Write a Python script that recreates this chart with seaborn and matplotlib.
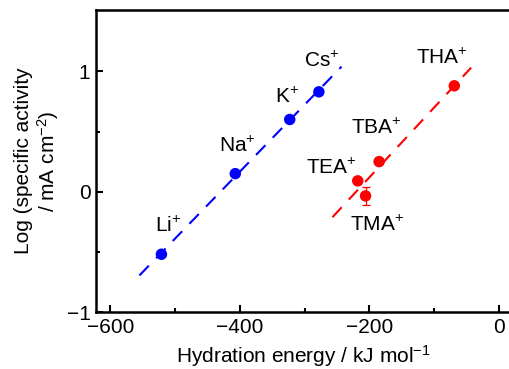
import matplotlib
matplotlib.use("Agg")
import matplotlib.pyplot as plt
import numpy as np
import pandas as pd
import seaborn as sns

# alkali cations
alkali_names = ["Li", "Na", "K", "Cs"]
alkali_energy = [-521, -407, -323, -278]
alkali_log = [-0.52, 0.15, 0.60, 0.83]
alkali_fit_range = [-555, -243]

# tetraalkylammonium cations
taa_names = ["TEA", "TMA", "TBA", "THA"]
taa_energy = [-218, -206, -185, -69]
taa_log = [0.09, -0.035, 0.25, 0.88]
taa_err = [0.0, 0.075, 0.0, 0.0]
taa_fit_range = [-257, -43]

sns.set_theme(style="ticks")
plt.rcParams["font.family"] = ["Liberation Sans", "DejaVu Sans"]
plt.rcParams["mathtext.fontset"] = "custom"
plt.rcParams["mathtext.rm"] = "Liberation Sans"
plt.rcParams["mathtext.it"] = "Liberation Sans"
plt.rcParams["text.color"] = "black"
plt.rcParams["axes.labelcolor"] = "black"

BLUE = "#0000ff"
RED = "#ff0000"
FS = 15

df_alk = pd.DataFrame({"energy": alkali_energy, "log": alkali_log, "ion": alkali_names})
df_taa = pd.DataFrame({"energy": taa_energy, "log": taa_log, "ion": taa_names, "err": taa_err})

fig = plt.figure(figsize=(5.1, 3.69), dpi=100)
ax = fig.add_axes([96 / 510, 57 / 369, 1 - 96 / 510, 302 / 369])

# linear fits
for df, rng, c in [(df_alk, alkali_fit_range, BLUE), (df_taa, taa_fit_range, RED)]:
    k, b = np.polyfit(df["energy"], df["log"], 1)
    xs = np.array(rng, dtype=float)
    ax.plot(xs, k * xs + b, color=c, lw=1.5, dashes=(6.5, 5))

ax.errorbar(df_taa["energy"], df_taa["log"], yerr=df_taa["err"], fmt="none",
            ecolor=RED, elinewidth=0.9, capsize=3, capthick=0.9)
sns.scatterplot(data=df_alk, x="energy", y="log", color=BLUE, s=68,
                edgecolor="none", ax=ax, zorder=3)
sns.scatterplot(data=df_taa, x="energy", y="log", color=RED, s=68,
                edgecolor="none", ax=ax, zorder=3)

# labels (offsets in pixels)
alk_off = [(7, 28), (2, 28), (-3, 23), (3, 31)]
taa_off = [(-26, 13), (12, -29), (-3, 34), (-12, 28)]
for names, xs, ys, offs in [(alkali_names, alkali_energy, alkali_log, alk_off),
                            (taa_names, taa_energy, taa_log, taa_off)]:
    for n, x, y, o in zip(names, xs, ys, offs):
        ax.annotate(n + "$^{+}$", (x, y), xytext=o, textcoords="offset pixels",
                    ha="center", va="center", fontsize=FS, color="black")

ax.set_xlim(-622, 17)
ax.set_ylim(-1, 1.51)
ax.set_xticks([-600, -400, -200, 0])
ax.set_xticklabels(["\u2212600", "\u2212400", "\u2212200", "0"])
ax.set_xticks([-500, -300, -100], minor=True)
ax.set_yticks([-1, 0, 1])
ax.set_yticklabels(["\u22121", "0", "1"])
ax.set_yticks([-0.5, 0.5], minor=True)

ax.tick_params(axis="both", which="major", direction="in", length=5, width=1.5,
               labelsize=FS, colors="black", labelcolor="black", pad=4)
ax.tick_params(axis="both", which="minor", direction="in", length=3, width=1.5,
               colors="black")
ax.tick_params(axis="y", which="both", right=False)
ax.tick_params(axis="x", which="both", top=False)
for side in ["left", "bottom", "top"]:
    ax.spines[side].set_linewidth(1.8)
    ax.spines[side].set_color("black")
ax.spines["right"].set_visible(False)

ax.set_xlabel("Hydration energy / kJ mol$^{\u22121}$", fontsize=FS, labelpad=5)
ax.set_ylabel("Log (specific activity\n/ mA cm$^{\u22122}$)", fontsize=FS,
              labelpad=4, linespacing=1.1)

fig.savefig("out.png", dpi=100)
plt.close(fig)
